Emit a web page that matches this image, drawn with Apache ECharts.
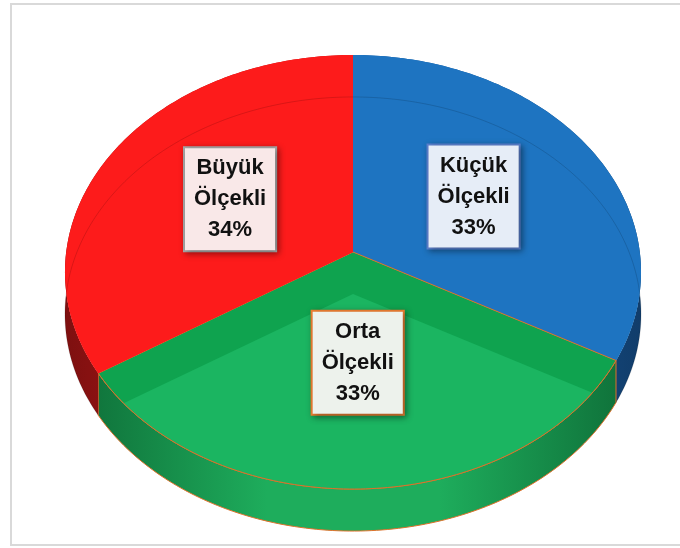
<!DOCTYPE html>
<html>
<head>
<meta charset="utf-8">
<script src="https://cdn.jsdelivr.net/npm/echarts@6/dist/echarts.min.js"></script>
<style>
  html, body { margin: 0; padding: 0; background: #fff; }
  #main { width: 680px; height: 548px; }
</style>
</head>
<body>
<div id="main"></div>
<script>
// veriler
const categories = ['Küçük Ölçekli', 'Orta Ölçekli', 'Büyük Ölçekli'];
const shares = [33, 33, 34];

// dilim renkleri
const topColors  = ['#1e74c1', '#0fa34f', '#fd1b1b'];
const seeColors  = ['#1e74c1', '#1bb561', '#fd1b1b'];
const wallEdge   = ['#113d6b', '#0e6c37', '#7e1010'];
const wallMid    = ['#1a5fa3', '#1ead5c', '#c81919'];
const edgeStroke = [null, '#e0702a', null];
const boxFill    = ['#e6edf7', '#edf2ec', '#f9e8e8'];
const boxBorder  = ['#5a7fcd', '#ed7d31', '#a6a6a6'];

// perspektif geometri
const CX = 353, CY = 252, RX = 286.8, RY = 215.2, PERSP = -0.0922, DEPTH = 42;

const total = shares.reduce((a, b) => a + b, 0);
const angles = [];
let acc = 0;
shares.forEach(v => {
    const a0 = acc * 360 / total;
    acc += v;
    angles.push([a0, acc * 360 / total]);
});

function proj(deg, r, z) {
    const t = deg * Math.PI / 180;
    const u = r * Math.sin(t), v = -r * Math.cos(t);
    const d = 1 + PERSP * v;
    return [CX + RX * u / d, CY + RY * v / d + z];
}

function arc(a0, a1, z) {
    const n = Math.max(2, Math.ceil(Math.abs(a1 - a0)));
    const pts = [];
    for (let i = 0; i <= n; i++) pts.push(proj(a0 + (a1 - a0) * i / n, 1, z));
    return pts;
}

function sector(a0, a1, z) {
    return [proj(0, 0, z)].concat(arc(a0, a1, z));
}

function intersect(P, Q, A, B) {
    const d1x = Q[0] - P[0], d1y = Q[1] - P[1];
    const d2x = B[0] - A[0], d2y = B[1] - A[1];
    const den = d1x * d2y - d1y * d2x;
    const t = ((A[0] - P[0]) * d2y - (A[1] - P[1]) * d2x) / den;
    return [P[0] + t * d1x, P[1] + t * d1y];
}

// convex kırpma (Sutherland-Hodgman)
function clipPoly(subject, clip) {
    let area = 0;
    for (let i = 0; i < clip.length; i++) {
        const p = clip[i], q = clip[(i + 1) % clip.length];
        area += p[0] * q[1] - q[0] * p[1];
    }
    const sgn = area > 0 ? 1 : -1;
    let out = subject;
    for (let i = 0; i < clip.length && out.length; i++) {
        const A = clip[i], B = clip[(i + 1) % clip.length];
        const inside = p => sgn * ((B[0] - A[0]) * (p[1] - A[1]) - (B[1] - A[1]) * (p[0] - A[0])) >= 0;
        const inp = out;
        out = [];
        for (let j = 0; j < inp.length; j++) {
            const P = inp[j], Q = inp[(j + 1) % inp.length];
            const pin = inside(P), qin = inside(Q);
            if (pin) {
                out.push(P);
                if (!qin) out.push(intersect(P, Q, A, B));
            } else if (qin) {
                out.push(intersect(P, Q, A, B));
            }
        }
    }
    return out;
}

function wallGradient(i) {
    return new echarts.graphic.LinearGradient(CX - RX, 0, CX + RX, 0, [
        { offset: 0, color: wallEdge[i] },
        { offset: 0.35, color: wallMid[i] },
        { offset: 0.65, color: wallMid[i] },
        { offset: 1, color: wallEdge[i] }
    ], true);
}

function renderWalls(params, api) {
    const i = params.dataIndex;
    const [a0, a1] = angles[i];
    const pts = arc(a0, a1, 0).concat(arc(a1, a0, DEPTH));
    return {
        type: 'polygon',
        shape: { points: pts },
        style: {
            fill: wallGradient(i),
            stroke: edgeStroke[i] || 'none',
            lineWidth: 1
        }
    };
}

function renderTops(params, api) {
    const i = params.dataIndex;
    const [a0, a1] = angles[i];
    const top = sector(a0, a1, 0);
    const children = [];
    children.push({
        type: 'polygon',
        shape: { points: top },
        style: { fill: topColors[i] }
    });
    // alt yüz (saydamlıktan görünen kısım)
    const seen = clipPoly(sector(a0, a1, DEPTH), top);
    if (seen.length > 2) {
        children.push({
            type: 'polygon',
            shape: { points: seen },
            style: { fill: seeColors[i] }
        });
    }
    if (!edgeStroke[i]) {
        children.push({
            type: 'polyline',
            shape: { points: arc(a0, a1, DEPTH) },
            style: { stroke: 'rgba(0,0,0,0.14)', lineWidth: 1, fill: 'none' }
        });
    } else {
        children.push({
            type: 'polygon',
            shape: { points: top },
            style: { fill: 'none', stroke: edgeStroke[i], lineWidth: 1 }
        });
    }
    return { type: 'group', children: children };
}

function renderLabels(params, api) {
    const i = params.dataIndex;
    const [a0, a1] = angles[i];
    const p = proj((a0 + a1) / 2, 0.5, 0);
    const text = categories[i].split(' ').join('\n') + '\n' + api.value(1) + '%';
    return {
        type: 'text',
        x: p[0],
        y: p[1] - 2,
        style: {
            text: text,
            font: 'bold 22px "Liberation Sans", Arial, sans-serif',
            fill: '#111',
            align: 'center',
            verticalAlign: 'middle',
            lineHeight: 31,
            padding: [5, 9, 4, 9],
            backgroundColor: boxFill[i],
            borderColor: boxBorder[i],
            borderWidth: 2,
            shadowBlur: 6,
            shadowColor: 'rgba(0,0,0,0.35)',
            shadowOffsetX: 2,
            shadowOffsetY: 2
        }
    };
}

const seriesData = shares.map((v, i) => [i, v]);

const myChart = echarts.init(document.getElementById('main'));
myChart.setOption({
    animation: false,
    graphic: [{
        type: 'rect',
        shape: { x: 11, y: 4, width: 700, height: 541 },
        style: { fill: 'none', stroke: '#d9d9d9', lineWidth: 2 },
        z: -10
    }],
    series: [
        { type: 'custom', coordinateSystem: 'none', renderItem: renderWalls, data: seriesData, z: 1 },
        { type: 'custom', coordinateSystem: 'none', renderItem: renderTops, data: seriesData, z: 2 },
        { type: 'custom', coordinateSystem: 'none', renderItem: renderLabels, data: seriesData, z: 3 }
    ]
});
</script>
</body>
</html>
